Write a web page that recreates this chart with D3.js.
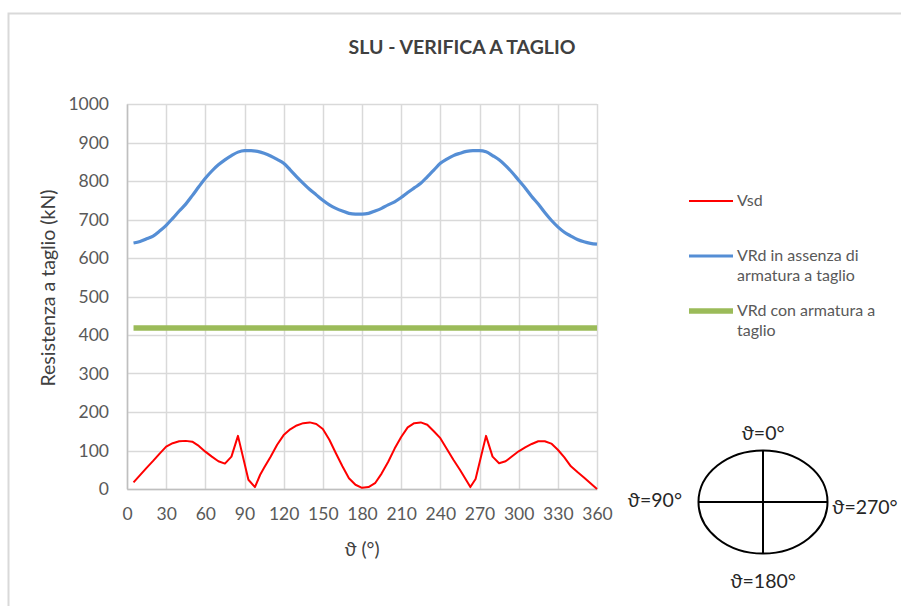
<!DOCTYPE html>
<html><head><meta charset="utf-8">
<script src="https://cdn.jsdelivr.net/npm/d3@7"></script>
<style>body{margin:0;background:#fff}svg{display:block}</style>
</head><body>
<script>
// ---- data ----
const blueTheta = [5,10,15,20,25,30,35,40,45,50,55,60,65,70,75,80,85,90,95,100,105,110,115,120,125,130,135,140,145,150,155,160,165,170,175,180,185,190,195,200,205,210,215,220,225,230,235,240,245,250,255,260,265,270,275,280,285,290,295,300,305,310,315,320,325,330,335,340,345,350,355,360];
const blueVals  = [639,643,650,657,670,685,703,722,740,762,785,807,826,842,855,866,875,879,879,877,872,865,856,846,829,811,794,778,764,750,738,729,722,716,714,714,716,722,729,738,746,757,770,782,794,811,828,846,857,866,872,877,879,879,876,866,855,840,822,802,782,760,740,718,698,681,667,657,648,642,638,636];
const redTheta = [5,10,15,20,25,30,35,40,45,50,55,60,65,70,75,80,85,93,98,102,105,110,115,120,125,130,135,140,145,150,155,160,165,170,175,180,185,190,195,200,205,210,215,220,225,230,235,240,245,250,255,260,263,267,275,280,285,290,295,300,305,310,315,320,325,330,335,340,345,350,355,360];
const redVals  = [17,36,55,73,92,110,119,124,125,123,112,97,84,72,66,84,138,24,5,37,55,84,115,140,155,165,171,173,169,156,128,93,59,28,11,3,5,15,40,70,105,135,160,171,173,167,150,132,104,76,50,22,5,26,138,84,67,72,85,98,108,117,124,124,118,102,82,59,44,30,15,0];
const greenTheta = [5,360];
const greenVals = [418,418];
const xTicks = [0,30,60,90,120,150,180,210,240,270,300,330,360];
const yTicks = [0,100,200,300,400,500,600,700,800,900,1000];
const seriesNames = ["Vsd","VRd in assenza di|armatura a taglio","VRd con armatura a|taglio"];
const title = "SLU - VERIFICA A TAGLIO";
const yTitle = "Resistenza a taglio (kN)";
const xTitle = "\u03D1 (°)";
const dirLabels = ["\u03D1=0°","\u03D1=90°","\u03D1=180°","\u03D1=270°"];

const W=901,H=606;
const m={left:127,right:597,top:104,bottom:489};
const svg=d3.select("body").append("svg").attr("width",W).attr("height",H);
const F="Lato, 'Open Sans', sans-serif";
svg.append("rect").attr("x",8.5).attr("y",13.5).attr("width",1000).attr("height",1000).attr("fill","#fff").attr("stroke","#d9d9d9").attr("stroke-width",2);

const x=d3.scaleLinear().domain([0,360]).range([m.left,m.right]);
const y=d3.scaleLinear().domain([0,1000]).range([m.bottom,m.top]);

// grid
const g=svg.append("g");
g.selectAll(".hg").data(yTicks).join("line").attr("x1",m.left).attr("x2",m.right)
 .attr("y1",d=>Math.round(y(d))+0.5).attr("y2",d=>Math.round(y(d))+0.5).attr("stroke","#d9d9d9").attr("stroke-width",1.5);
g.selectAll(".vg").data(xTicks).join("line").attr("y1",m.top).attr("y2",m.bottom)
 .attr("x1",d=>Math.round(x(d))+0.5).attr("x2",d=>Math.round(x(d))+0.5).attr("stroke","#d9d9d9").attr("stroke-width",1.5);

// axes
const ax=svg.append("g").attr("transform",`translate(0,${m.bottom})`)
 .call(d3.axisBottom(x).tickValues(xTicks).tickFormat(d3.format("d")).tickSize(0).tickPadding(19));
const ay=svg.append("g").attr("transform",`translate(${m.left},0)`)
 .call(d3.axisLeft(y).tickValues(yTicks).tickFormat(d3.format("d")).tickSize(0).tickPadding(18));
[ax,ay].forEach(a=>{a.select(".domain").attr("stroke","#bfbfbf").attr("stroke-width",1.5);
 a.selectAll("text").attr("font-family",F).attr("font-size",17.5).attr("fill","#595959");});

// lines
const line=d3.line().x(d=>x(d[0])).y(d=>y(d[1]));
svg.append("path").datum(greenTheta.map((t,i)=>[t,greenVals[i]])).attr("d",line).attr("fill","none").attr("stroke","#9bbb59").attr("stroke-width",5.5);
svg.append("path").datum(blueTheta.map((t,i)=>[t,blueVals[i]])).attr("d",d3.line().x(d=>x(d[0])).y(d=>y(d[1])).curve(d3.curveMonotoneX)).attr("fill","none").attr("stroke","#558ed5").attr("stroke-width",3.2).attr("stroke-linejoin","round");
svg.append("path").datum(redTheta.map((t,i)=>[t,redVals[i]])).attr("d",line).attr("fill","none").attr("stroke","#ff0000").attr("stroke-width",2).attr("stroke-linejoin","round");

// titles
svg.append("text").attr("x",462).attr("y",54).attr("text-anchor","middle").attr("font-family",F).attr("font-weight","bold").attr("font-size",19.5).attr("fill","#404040").text(title);
svg.append("text").attr("transform","translate(55,288) rotate(-90)").attr("text-anchor","middle").attr("font-family",F).attr("font-size",19.5).attr("fill","#404040").text(yTitle);
svg.append("text").attr("x",362).attr("y",556).attr("text-anchor","middle").attr("font-family",F).attr("font-size",19).attr("fill","#404040").text(xTitle);

// legend
const legY=[201,256,311], legC=["#ff0000","#558ed5","#9bbb59"], legW=[2,3.2,5.5];
seriesNames.forEach((n,i)=>{
  svg.append("line").attr("x1",689).attr("x2",733).attr("y1",legY[i]).attr("y2",legY[i]).attr("stroke",legC[i]).attr("stroke-width",legW[i]);
  const t=svg.append("text").attr("x",737).attr("y",legY[i]+5).attr("font-family",F).attr("font-size",16).attr("fill","#595959");
  n.split("|").forEach((s,k)=>t.append("tspan").attr("x",737).attr("dy",k?20:0).text(s));
});

// orientation diagram
const cx=763,cy=502;
svg.append("ellipse").attr("cx",cx).attr("cy",cy).attr("rx",64.5).attr("ry",51.5).attr("fill","none").attr("stroke","#000").attr("stroke-width",2);
svg.append("line").attr("x1",cx).attr("x2",cx).attr("y1",cy-51.5).attr("y2",cy+51.5).attr("stroke","#000").attr("stroke-width",2);
svg.append("line").attr("x1",cx-64.5).attr("x2",cx+64.5).attr("y1",cy).attr("y2",cy).attr("stroke","#000").attr("stroke-width",2);
const dl=[[763,440,"middle"],[682,507,"end"],[763,588,"middle"],[832,514,"start"]];
dirLabels.forEach((s,i)=>svg.append("text").attr("x",dl[i][0]).attr("y",dl[i][1]).attr("text-anchor",dl[i][2]).attr("font-family",F).attr("font-size",19.5).attr("fill","#262626").text(s));
</script>
</body></html>
